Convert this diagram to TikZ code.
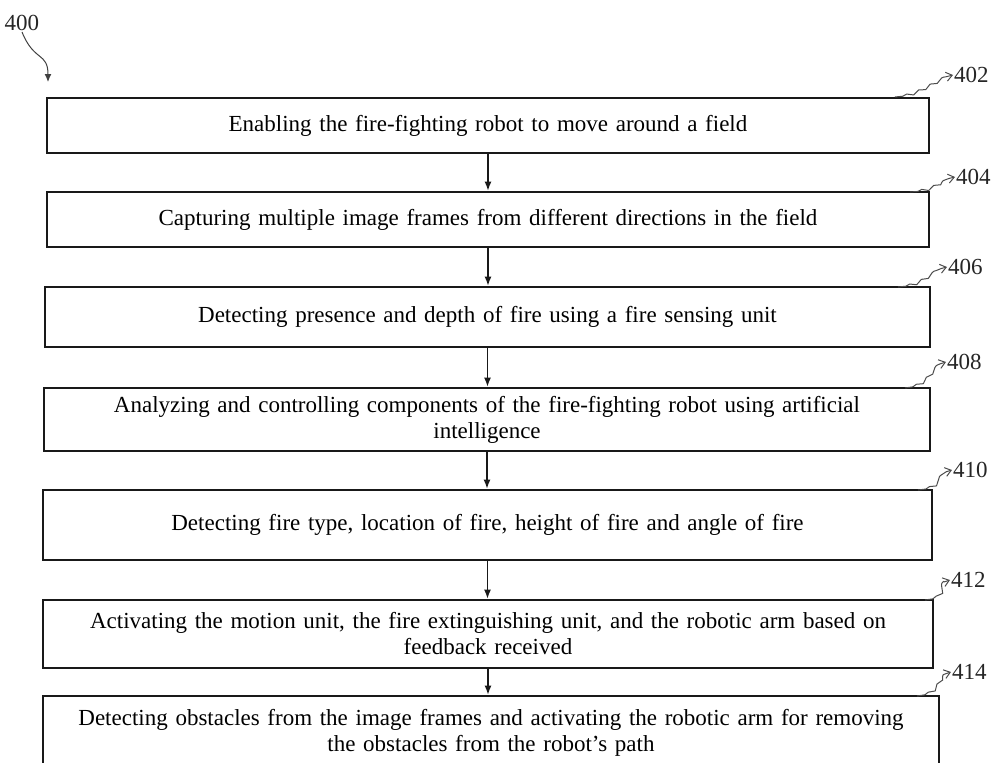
\documentclass[tikz,border=0pt]{standalone}
\usepackage{fontspec}
\setmainfont{Liberation Serif}
\usetikzlibrary{arrows.meta,decorations.pathmorphing}
\begin{document}
\begin{tikzpicture}[x=1pt,y=-1pt,
  box/.style={draw=black!90, line width=2.7pt, inner sep=0pt, align=center,
    font=\fontsize{23}{26}\selectfont, text width=860pt},
  flow/.style={-{Latex[length=9pt,width=7pt]}, line width=1.4pt, black!90},
  lbl/.style={font=\fontsize{23}{26}\selectfont, inner sep=1pt, text=black!85},
  lead/.style={-{Straight Barb[length=6pt,width=9pt]}, line width=1pt, black!70,
    decoration={snake, amplitude=1.4pt, segment length=13pt, pre length=8pt, post length=6pt}, decorate}]
\useasboundingbox (0,0) rectangle (997,763);
\clip (0,0) rectangle (997,763);

\node[box, minimum width=882pt, minimum height=55pt] (b402) at (488,125.5)
  {Enabling the fire-fighting robot to move around a field};
\node[box, minimum width=882pt, minimum height=55pt] (b404) at (488,219.5)
  {Capturing multiple image frames from different directions in the field};
\node[box, minimum width=885pt, minimum height=60pt] (b406) at (487.5,317)
  {Detecting presence and depth of fire using a fire sensing unit};
\node[box, minimum width=886pt, minimum height=63pt] (b408) at (487,419.5)
  {Analyzing and controlling components of the fire-fighting robot using artificial\\intelligence};
\node[box, minimum width=889pt, minimum height=70pt] (b410) at (487.5,525)
  {Detecting fire type, location of fire, height of fire and angle of fire};
\node[box, minimum width=890pt, minimum height=68pt] (b412) at (488,634)
  {Activating the motion unit, the fire extinguishing unit, and the robotic arm based on\\feedback received};
\node[box, minimum width=896pt, minimum height=73pt] (b414) at (491,732.5)
  {Detecting obstacles from the image frames and activating the robotic arm for removing\\the obstacles from the robot’s path};

\draw[flow] (b402.south) -- (b402.south |- b404.north);
\draw[flow] (b404.south) -- (b404.south |- b406.north);
\draw[flow] (b406.south) -- (b406.south |- b408.north);
\draw[flow] (b408.south) -- (b408.south |- b410.north);
\draw[flow] (b410.south) -- (b410.south |- b412.north);
\draw[flow] (b412.south) -- (b412.south |- b414.north);

% reference numerals
\node[lbl] (l400) at (22,23) {400};
\coordinate (t400) at (48,82);
\draw[line width=1pt, black!75, -{Latex[length=8pt,width=7pt]}]
  (l400.south) .. controls (34,62) and (48,52) .. (t400);

\node[lbl, anchor=west] (l402) at (953,75) {402};
\node[lbl, anchor=west] (l404) at (955,177) {404};
\node[lbl, anchor=west] (l406) at (947,267) {406};
\node[lbl, anchor=west] (l408) at (946,362) {408};
\node[lbl, anchor=west] (l410) at (952,470) {410};
\node[lbl, anchor=west] (l412) at (950,580) {412};
\node[lbl, anchor=west] (l414) at (951,672) {414};

\coordinate (s402) at (895,97);
\coordinate (s404) at (910,192);
\coordinate (s406) at (898,287);
\coordinate (s408) at (905,388);
\coordinate (s410) at (918,490);
\coordinate (s412) at (925,600);
\coordinate (s414) at (917,696);

\foreach \n in {402,404,406,408,410,412,414}{
  \draw[lead] (s\n) .. controls +(22,0) and +(-18,3) .. (l\n.west);
}
\end{tikzpicture}
\end{document}
